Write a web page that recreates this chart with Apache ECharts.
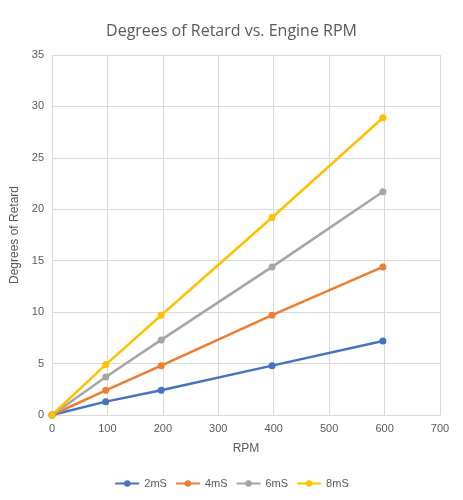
<!DOCTYPE html>
<html><head><meta charset="utf-8">
<script src="https://cdn.jsdelivr.net/npm/echarts@6/dist/echarts.min.js"></script>
<style>body{margin:0}#c{width:463px;height:500px}</style></head>
<body><div id="c"></div>
<script>
const rpm = [0, 97, 197, 397, 597];
const names = ['2mS', '4mS', '6mS', '8mS'];
const s2 = [0, 1.3, 2.4, 4.8, 7.2];
const s4 = [0, 2.4, 4.8, 9.7, 14.4];
const s6 = [0, 3.7, 7.3, 14.4, 21.7];
const s8 = [0, 4.9, 9.7, 19.2, 28.9];
const colors = ['#4472C4', '#ED7D31', '#A5A5A5', '#FFC000'];
const all = [s2, s4, s6, s8];
const chart = echarts.init(document.getElementById('c'));
chart.setOption({
  animation: false,
  color: colors,
  title: {text: 'Degrees of Retard vs. Engine RPM', left: 'center', top: 18,
    textStyle: {fontSize: 16, fontWeight: 'normal', color: '#595959', fontFamily: 'Open Sans'}},
  legend: {bottom: 6, itemWidth: 24, itemHeight: 8, itemGap: 8,
    textStyle: {color: '#595959', fontSize: 11}},
  grid: {left: 52, right: 23, top: 55, bottom: 85},
  xAxis: {type: 'value', min: 0, max: 700, interval: 100, name: 'RPM', nameLocation: 'middle', nameGap: 28,
    nameTextStyle: {color: '#595959', fontSize: 12},
    axisLine: {show: true, lineStyle: {color: '#d9d9d9'}}, axisTick: {show: false},
    axisLabel: {color: '#595959', fontSize: 11},
    splitLine: {lineStyle: {color: '#d9d9d9'}}},
  yAxis: {type: 'value', min: 0, max: 35, interval: 5, name: 'Degrees of Retard', nameLocation: 'middle', nameGap: 28,
    nameTextStyle: {color: '#595959', fontSize: 12},
    axisLine: {show: false}, axisTick: {show: false},
    axisLabel: {color: '#595959', fontSize: 11},
    splitLine: {lineStyle: {color: '#d9d9d9'}}},
  series: names.map((n, i) => ({
    name: n, type: 'line', symbol: 'circle', symbolSize: 7,
    lineStyle: {width: 2.5},
    data: rpm.map((x, j) => [x, all[i][j]])
  }))
});
</script></body></html>
